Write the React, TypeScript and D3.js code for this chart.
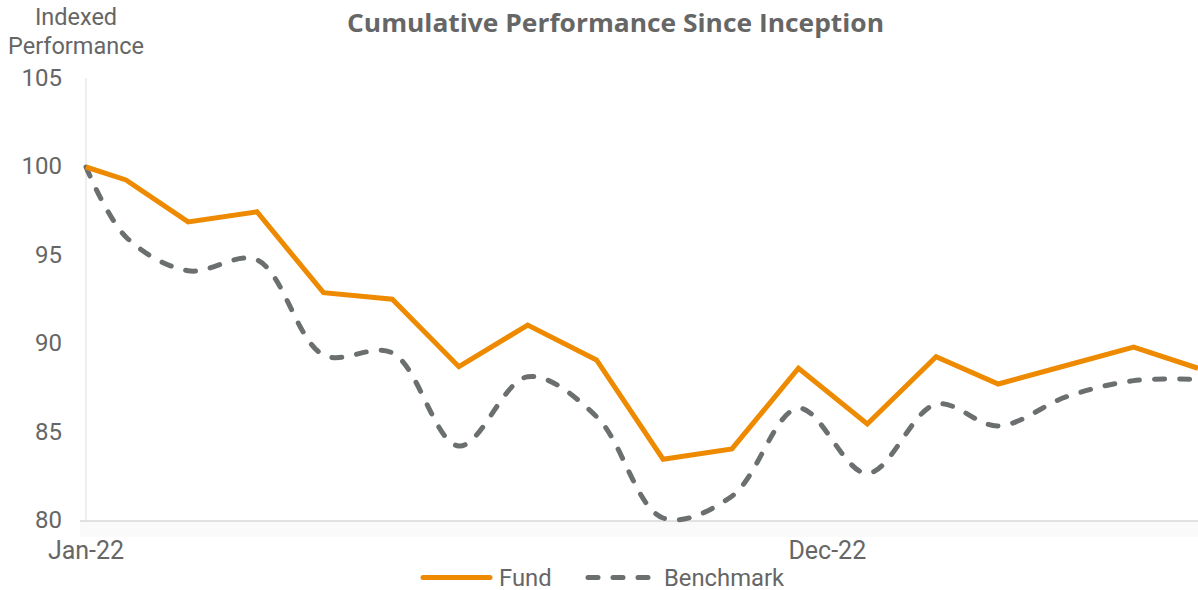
import React from "react";
import * as d3 from "d3";

// month-end index values, inception 13 Jan 2022
const dates = [
  "2022-01-13", "2022-01-31", "2022-02-28", "2022-03-31", "2022-04-30", "2022-05-31",
  "2022-06-30", "2022-07-31", "2022-08-31", "2022-09-30", "2022-10-31", "2022-11-30",
  "2022-12-31", "2023-01-31", "2023-02-28", "2023-03-31", "2023-04-30", "2023-05-29",
];
const fund = [100, 99.27, 96.9, 97.47, 92.9, 92.53, 88.72, 91.07, 89.1, 83.49, 84.07, 88.63, 85.48, 89.28, 87.74, 88.8, 89.82, 88.63];
const benchmark = [100, 96.05, 94.14, 94.75, 89.38, 89.5, 84.24, 88.15, 85.9, 80.17, 81.4, 86.37, 82.69, 86.6, 85.37, 87.03, 87.93, 88.0];
const yTicks = [80, 85, 90, 95, 100, 105];
const xTicks = ["2022-01-13", "2022-12-13"];

const W = 1198;
const H = 590;
const ORANGE = "#EE8A00";
const GREY = "#6C6F70";
const TEXT = "#666666";
const FONT = "Roboto, 'Liberation Sans', sans-serif";

const parse = d3.timeParse("%Y-%m-%d");

export default function App() {
  const x = d3
    .scaleTime()
    .domain([parse(dates[0])!, parse(dates[dates.length - 1])!])
    .range([86, 1198]);
  const y = d3.scaleLinear().domain([80, 105]).range([521, 78.5]);

  const pts = (vals: number[]) => dates.map((d, i) => [x(parse(d)!), y(vals[i])] as [number, number]);

  const fundPath = d3.line().curve(d3.curveLinear)(pts(fund));
  const benchPath = d3.line().curve(d3.curveCatmullRom.alpha(0.5))(pts(benchmark));
  const fmt = d3.timeFormat("%b-%y");

  return (
    <svg width={W} height={H} style={{ position: "absolute", left: 0, top: 0, background: "#fff" }}>
      <text
        x={615.5}
        y={32}
        textAnchor="middle"
        fontFamily="'Open Sans', sans-serif"
        fontWeight={700}
        fontSize={25}
        fill={TEXT}
        textLength={537}
        lengthAdjust="spacingAndGlyphs"
      >
        Cumulative Performance Since Inception
      </text>

      <g fontFamily={FONT} fontSize={23.5} fill={TEXT} textAnchor="middle">
        <text x={76} y={25}>Indexed</text>
        <text x={76} y={54}>Performance</text>
      </g>

      {/* axes */}
      <rect x={80} y={521} width={W - 80} height={16} fill="#fafafa" />
      <line x1={86} x2={86} y1={78} y2={521} stroke="#e8e8e8" strokeWidth={1.5} />
      <line x1={80} x2={W} y1={521} y2={521} stroke="#d9d9d9" strokeWidth={1.5} />

      <g fontFamily={FONT} fontSize={24} fill={TEXT}>
        {yTicks.map((t) => (
          <text key={t} x={62} y={y(t)} dy="0.3em" textAnchor="end">
            {t}
          </text>
        ))}
        {xTicks.map((t) => (
          <text key={t} x={x(parse(t)!)} y={559} textAnchor="middle" fontSize={25}>
            {fmt(parse(t)!)}
          </text>
        ))}
      </g>

      <path d={benchPath!} fill="none" stroke={GREY} strokeWidth={5} strokeDasharray="10 15" strokeLinecap="round" />
      <path d={fundPath!} fill="none" stroke={ORANGE} strokeWidth={5} strokeLinejoin="miter" />

      {/* legend */}
      <g fontFamily={FONT} fontSize={23.8} fill={TEXT}>
        <line x1={423} x2={490} y1={577.5} y2={577.5} stroke={ORANGE} strokeWidth={5} strokeLinecap="round" />
        <text x={499} y={585.5}>Fund</text>
        <line x1={588} x2={648} y1={577.5} y2={577.5} stroke={GREY} strokeWidth={5} strokeDasharray="10 15" strokeLinecap="round" />
        <text x={664} y={585.5}>Benchmark</text>
      </g>
    </svg>
  );
}
